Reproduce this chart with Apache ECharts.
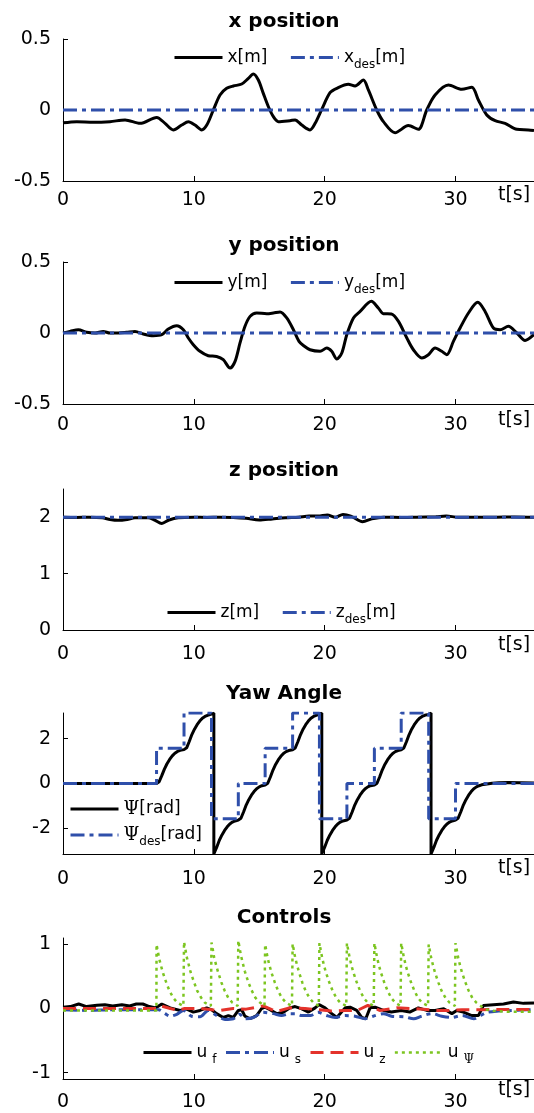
<!DOCTYPE html>
<html><head><meta charset="utf-8">
<script src="https://cdn.jsdelivr.net/npm/echarts@6/dist/echarts.min.js"></script>
<style>html,body{margin:0;padding:0;background:#fff}#c{width:534px;height:1113px}</style>
</head><body><div id="c"></div>
<script>
// ---------------- data (t [s], value) ----------------
const xTickValues = [0, 10, 20, 30];
const panelTitles = ['x position', 'y position', 'z position', 'Yaw Angle', 'Controls'];

const xPos = [[0,-0.09],[1.05,-0.082],[2.32,-0.087],[3.59,-0.082],[4.74,-0.07],[5.89,-0.094],[7.16,-0.052],[7.8,-0.094],[8.43,-0.14],[9.07,-0.106],[9.58,-0.082],[10.09,-0.106],[10.6,-0.14],[10.99,-0.106],[11.49,0],[12.0,0.106],[12.51,0.153],[13.02,0.169],[13.66,0.183],[14.17,0.223],[14.55,0.253],[14.93,0.211],[15.31,0.117],[15.7,0.023],[16.08,-0.047],[16.46,-0.082],[17.35,-0.075],[17.74,-0.07],[18.25,-0.106],[18.88,-0.14],[19.27,-0.094],[19.78,0.005],[20.41,0.122],[20.93,0.153],[21.81,0.181],[22.32,0.169],[22.96,0.211],[23.34,0.141],[23.98,0],[24.49,-0.082],[25.38,-0.16],[26.4,-0.11],[27.16,-0.136],[27.8,0],[28.44,0.106],[29.46,0.176],[30.48,0.146],[31.25,0.16],[31.75,0.07],[32.39,-0.035],[33.03,-0.075],[33.79,-0.094],[34.69,-0.136],[35.57,-0.14],[36,-0.145]];
const xDes = [[0,0],[36,0]];

const yPos = [[0,0],[0.54,0.011],[1.17,0.023],[1.81,0.005],[2.45,0],[3.08,0.011],[3.59,0],[4.23,0],[4.87,0.005],[5.5,0.011],[6.14,-0.007],[6.9,-0.019],[7.55,-0.012],[8.05,0.028],[8.69,0.051],[9.2,0.023],[9.58,-0.035],[9.96,-0.082],[10.47,-0.129],[11.1,-0.16],[11.74,-0.165],[12.25,-0.188],[12.77,-0.247],[13.15,-0.2],[13.53,-0.07],[13.91,0.047],[14.3,0.117],[14.8,0.141],[15.57,0.136],[16.08,0.141],[16.59,0.148],[17.1,0.106],[17.61,0.023],[18.04,-0.059],[18.4,-0.09],[18.88,-0.118],[19.65,-0.129],[20.16,-0.106],[20.54,-0.129],[20.93,-0.183],[21.31,-0.141],[21.69,-0.012],[22.2,0.106],[22.71,0.152],[23.57,0.223],[24.1,0.176],[24.49,0.136],[25.1,0.134],[25.64,0.082],[26.28,-0.035],[26.78,-0.118],[27.42,-0.176],[27.93,-0.153],[28.44,-0.106],[28.95,-0.129],[29.33,-0.153],[29.84,-0.059],[30.35,0.035],[30.99,0.141],[31.7,0.216],[32.26,0.152],[32.9,0.035],[33.41,0.023],[34.04,0.047],[34.69,0],[35.32,-0.052],[36,-0.01]];
const yDes = [[0,0],[36,0]];

const zPos = [[0,2.0],[1,1.995],[2,2.0],[3,1.99],[3.6,1.96],[4.2,1.945],[4.9,1.96],[5.5,1.99],[6.5,1.99],[7.0,1.95],[7.55,1.89],[8.1,1.95],[8.8,1.99],[10,2.0],[11,1.995],[12,2.0],[13,1.995],[14,1.98],[15.0,1.95],[16,1.97],[17,1.99],[18,2.0],[18.8,2.02],[19.5,2.02],[20.2,2.04],[20.8,2.0],[21.4,2.05],[22.0,2.02],[22.9,1.92],[23.6,1.97],[24.5,2.0],[26,1.995],[27,2.0],[28.5,2.01],[29.3,2.02],[30.2,2.0],[31.5,2.0],[33,2.0],[34.5,2.005],[36,2.0]];
const zDes = [[0,2],[36,2]];

const psiPos = [[0,0],[2,0],[4,0],[6,0],[7.15,0],[7.35,0.08],[7.55,0.35],[7.75,0.64],[7.95,0.88],[8.15,1.07],[8.35,1.23],[8.55,1.35],[8.75,1.43],[8.95,1.48],[9.25,1.51],
[9.45,1.59],[9.65,1.87],[9.85,2.18],[10.05,2.42],[10.25,2.62],[10.45,2.78],[10.65,2.91],[10.85,2.99],[11.05,3.04],[11.35,3.09],[11.53,3.1416],[11.53,-3.1416],[11.55,-3.12],[11.75,-2.84],[11.95,-2.53],[12.15,-2.29],[12.35,-2.09],[12.55,-1.93],[12.75,-1.8],[12.95,-1.72],[13.15,-1.67],[13.4,-1.63],
[13.6,-1.55],[13.8,-1.27],[14.0,-0.96],[14.2,-0.72],[14.4,-0.52],[14.6,-0.36],[14.8,-0.23],[15.0,-0.15],[15.2,-0.1],[15.45,-0.07],
[15.65,0.01],[15.85,0.29],[16.05,0.6],[16.25,0.85],[16.45,1.05],[16.65,1.21],[16.85,1.34],[17.05,1.42],[17.25,1.47],[17.55,1.5],
[17.75,1.58],[17.95,1.86],[18.15,2.17],[18.35,2.42],[18.55,2.62],[18.75,2.78],[18.95,2.91],[19.15,2.99],[19.35,3.04],[19.6,3.08],[19.78,3.1416],[19.78,-3.1416],[19.8,-3.12],[20.0,-2.84],[20.2,-2.53],[20.4,-2.29],[20.6,-2.09],[20.8,-1.93],[21.0,-1.8],[21.2,-1.72],[21.4,-1.67],[21.7,-1.63],
[21.9,-1.55],[22.1,-1.27],[22.3,-0.96],[22.5,-0.72],[22.7,-0.52],[22.9,-0.36],[23.1,-0.23],[23.3,-0.15],[23.5,-0.1],[23.8,-0.07],
[24.0,0.01],[24.2,0.29],[24.4,0.6],[24.6,0.85],[24.8,1.05],[25.0,1.21],[25.2,1.34],[25.4,1.42],[25.6,1.47],[25.85,1.5],
[26.05,1.58],[26.25,1.86],[26.45,2.17],[26.65,2.42],[26.85,2.62],[27.05,2.78],[27.25,2.91],[27.45,2.99],[27.65,3.04],[27.95,3.08],[28.13,3.1416],[28.13,-3.1416],[28.15,-3.12],[28.35,-2.84],[28.55,-2.53],[28.75,-2.29],[28.95,-2.09],[29.15,-1.93],[29.35,-1.8],[29.55,-1.72],[29.75,-1.67],[30.0,-1.63],
[30.2,-1.55],[30.4,-1.27],[30.6,-0.96],[30.8,-0.72],[31.0,-0.52],[31.2,-0.36],[31.4,-0.23],[31.6,-0.15],[31.8,-0.1],[32.0,-0.06],[32.4,-0.02],[32.8,0.01],[33.3,0.03],[34,0.04],[35,0.03],[36,0.02]];
// desired yaw: value held from each time until the next one
const psiDes = [[0,0],[7.15,1.5708],[9.25,3.1416],[11.35,-1.5708],[13.4,0],[15.45,1.5708],[17.55,3.1416],[19.6,-1.5708],[21.7,0],[23.8,1.5708],[25.85,3.1416],[27.95,-1.5708],[30.0,0],[36,0]];

const uF = [[0,0.02],[0.55,0.03],[1.2,0.07],[1.8,0.03],[2.6,0.05],[3.2,0.06],[3.8,0.04],[4.5,0.06],[5.1,0.04],[5.6,0.07],[6.1,0.07],[6.6,0.03],[7.1,0.01],[7.55,0.07],[8.19,0.01],[8.95,-0.03],[9.45,-0.01],[9.96,-0.056],[10.47,-0.03],[10.98,0.01],[11.36,-0.02],[11.74,-0.08],[12.25,-0.14],[12.64,-0.11],[13.02,-0.14],[13.4,-0.03],[13.66,-0.02],[13.9,-0.12],[14.3,-0.16],[14.8,-0.11],[15.18,0.0],[15.44,0.02],[15.82,-0.02],[16.33,-0.08],[16.84,-0.06],[17.35,0.01],[17.74,0.03],[18.25,-0.005],[18.76,-0.056],[19.27,0.01],[19.57,0.06],[20.03,0.01],[20.54,-0.08],[20.93,-0.14],[21.56,0.01],[21.94,0.02],[22.45,-0.03],[22.83,-0.14],[23.14,-0.16],[23.47,0.01],[23.85,0.02],[24.5,-0.03],[25.1,-0.056],[25.86,-0.03],[26.5,-0.056],[27.16,0.01],[27.8,-0.03],[28.44,-0.03],[29.1,-0.005],[29.72,-0.08],[30.1,-0.03],[30.6,-0.056],[31.25,-0.11],[31.75,-0.11],[32.13,0.046],[32.9,0.06],[33.67,0.07],[34.43,0.1],[35.2,0.08],[36,0.087]];
const uS = [[0,-0.02],[2,-0.03],[3.8,-0.02],[5.9,-0.02],[7.3,-0.02],[7.8,-0.08],[8.2,-0.12],[8.7,-0.09],[9.2,-0.03],[9.83,-0.12],[10.47,-0.13],[11.1,-0.03],[11.74,-0.11],[12.38,-0.17],[13.02,-0.16],[13.5,-0.09],[13.9,-0.16],[14.55,-0.14],[15.3,-0.06],[16.08,-0.08],[16.7,-0.11],[17.35,-0.08],[17.74,-0.08],[18.25,-0.11],[18.9,-0.11],[19.5,-0.06],[20.16,-0.11],[20.8,-0.14],[21.56,-0.11],[22.32,-0.12],[23.1,-0.16],[23.7,-0.12],[24.5,-0.08],[25.1,-0.12],[26.1,-0.13],[26.8,-0.16],[27.4,-0.12],[28.2,-0.08],[28.95,-0.12],[29.7,-0.14],[30.5,-0.11],[31.4,-0.16],[31.9,-0.11],[32.4,-0.06],[33.3,-0.04],[34.4,-0.03],[35.4,-0.02],[36,-0.02]];
const uZ = [[0,0],[7.2,0.0],[7.5,0.04],[8.2,0.0],[8.8,-0.03],[9.3,0.0],[10.5,0.0],[11.4,-0.02],[12.0,-0.03],[13.0,0.0],[14.0,-0.01],[15.3,0.04],[16.3,-0.05],[17.3,0.01],[18.5,0.0],[19.6,-0.02],[20.5,-0.04],[21.5,-0.03],[22.5,-0.03],[23.3,0.05],[24.2,-0.03],[25.5,0.01],[26.5,0.0],[27.5,-0.01],[28.5,-0.03],[29.5,-0.03],[30.5,-0.02],[32,-0.02],[33,-0.015],[36,-0.015]];
const uPsi = [[0,-0.03],[3,-0.03],[6,-0.03],[7.14,-0.03],
[7.15,1.0],[7.25,0.89],[7.35,0.78],[7.5,0.66],[7.65,0.55],[7.9,0.4],[8.15,0.27],[8.45,0.16],[8.75,0.09],[9.2,0.04],
[9.25,1.04],[9.35,0.93],[9.45,0.81],[9.6,0.69],[9.75,0.57],[10.0,0.42],[10.25,0.28],[10.55,0.17],[10.85,0.09],[11.3,0.04],
[11.35,1.03],[11.45,0.92],[11.55,0.8],[11.7,0.68],[11.85,0.57],[12.1,0.41],[12.35,0.28],[12.65,0.16],[12.95,0.09],[13.35,0.04],
[13.4,1.06],[13.5,0.94],[13.6,0.83],[13.75,0.7],[13.9,0.58],[14.15,0.42],[14.4,0.29],[14.7,0.17],[15.0,0.1],[15.4,0.04],
[15.45,1.0],[15.55,0.89],[15.65,0.78],[15.8,0.66],[15.95,0.55],[16.2,0.4],[16.45,0.27],[16.75,0.16],[17.05,0.09],[17.5,0.04],
[17.55,1.01],[17.65,0.9],[17.75,0.79],[17.9,0.67],[18.05,0.56],[18.3,0.4],[18.55,0.27],[18.85,0.16],[19.15,0.09],[19.55,0.04],
[19.6,1.02],[19.7,0.91],[19.8,0.8],[19.95,0.67],[20.1,0.56],[20.35,0.41],[20.6,0.28],[20.9,0.16],[21.2,0.09],[21.65,0.04],
[21.7,1.02],[21.8,0.91],[21.9,0.8],[22.05,0.67],[22.2,0.56],[22.45,0.41],[22.7,0.28],[23.0,0.16],[23.3,0.09],[23.75,0.04],
[23.8,1.02],[23.9,0.91],[24.0,0.8],[24.15,0.67],[24.3,0.56],[24.55,0.41],[24.8,0.28],[25.1,0.16],[25.4,0.09],[25.8,0.04],
[25.85,1.02],[25.95,0.91],[26.05,0.8],[26.2,0.67],[26.35,0.56],[26.6,0.41],[26.85,0.28],[27.15,0.16],[27.45,0.09],[27.9,0.04],
[27.95,1.0],[28.05,0.89],[28.15,0.78],[28.3,0.66],[28.45,0.55],[28.7,0.4],[28.95,0.27],[29.25,0.16],[29.55,0.09],[29.95,0.04],
[30.0,1.02],[30.1,0.91],[30.2,0.8],[30.35,0.67],[30.5,0.56],[30.75,0.41],[31.0,0.28],[31.3,0.16],[31.6,0.09],[32.0,0.03],[32.4,-0.02],[33,-0.04],[34,-0.05],[35,-0.05],[36,-0.05]];

// ---------------- layout / style ----------------
const FONT = "'DejaVu Sans', sans-serif";
const SERIF = "'DejaVu Serif', serif";
const BLACK = '#000000', BLUE = '#2F4FAA', RED = '#E4322B', GREEN = '#7CC520';
const DASHDOT = [14, 5, 4, 5];
const gridTops = [39, 262, 489, 713, 938];
const gridHeights = [142, 142, 141, 141, 141];
const yRanges = [[-0.5, 0.5], [-0.5, 0.5], [0, 2.5], [-Math.PI, Math.PI], [-1.1, 1.1]];
const yTickValues = [[-0.5, 0, 0.5], [-0.5, 0, 0.5], [0, 1, 2], [-2, 0, 2], [-1, 0, 1]];
const xLabelMargins = [10, 12, 15, 16, 14];
const tNamePads = [5, 7, 6, 5, 2];
const titleTops = [12, 236, 461, 684, 908];

const legendText = {
  'x[m]': '{n|x[m]}', 'x_des[m]': '{n|x}{s|des}{n|[m]}',
  'y[m]': '{n|y[m]}', 'y_des[m]': '{n|y}{s|des}{n|[m]}',
  'z[m]': '{n|z[m]}', 'z_des[m]': '{n|z}{s|des}{n|[m]}',
  'Ψ[rad]': '{g|Ψ}{n|[rad]}', 'Ψ_des[rad]': '{g|Ψ}{s|des}{n|[rad]}',
  'u_f': '{n|u}{su|f}', 'u_s': '{n|u}{su|s}', 'u_z': '{n|u}{su|z}', 'u_Ψ': '{n|u}{sg|Ψ}'
};
const rich = {
  n: {fontSize: 17, fontFamily: FONT, color: '#000', lineHeight: 26},
  g: {fontSize: 18, fontFamily: SERIF, color: '#000', lineHeight: 26},
  s: {fontSize: 12, fontFamily: FONT, color: '#000', lineHeight: 14, verticalAlign: 'bottom'},
  su: {fontSize: 12, fontFamily: FONT, color: '#000', lineHeight: 14, verticalAlign: 'bottom', padding: [0, 0, 0, 5]},
  sg: {fontSize: 12, fontFamily: SERIF, color: '#000', lineHeight: 14, verticalAlign: 'bottom', padding: [0, 0, 0, 5]}
};

function legendCfg(names, left, top, extra) {
  return Object.assign({
    data: names, left: left, top: top, padding: 0, itemWidth: 48, itemHeight: 14, itemGap: 22,
    selectedMode: false, formatter: n => legendText[n],
    itemStyle: {opacity: 0, borderWidth: 0},
    lineStyle: {width: 'inherit'},
    textStyle: {color: '#000', fontFamily: FONT, fontSize: 17, rich: rich}
  }, extra || {});
}
function ser(name, idx, data, color, width, type, extra) {
  return Object.assign({
    name: name, type: 'line', xAxisIndex: idx, yAxisIndex: idx, data: data,
    symbol: 'none', showSymbol: false, clip: true,
    lineStyle: {color: color, width: width, type: type}, itemStyle: {color: color}
  }, extra || {});
}

const grids = [], xAxes = [], yAxes = [], graphics = [];
for (let i = 0; i < 5; i++) {
  grids.push({left: 63, width: 471, top: gridTops[i], height: gridHeights[i], outerBoundsMode: 'none', containLabel: false});
  xAxes.push({
    type: 'value', gridIndex: i, min: 0, max: 36,
    axisLine: {show: true, onZero: false, lineStyle: {color: '#000', width: 1}},
    axisTick: {show: true, inside: true, length: 5, customValues: xTickValues, lineStyle: {color: '#000'}},
    axisLabel: {customValues: xTickValues, margin: xLabelMargins[i], color: '#000', fontSize: 19, fontFamily: FONT},
    splitLine: {show: false},
    name: 't[s]', nameLocation: 'end', nameGap: -36,
    nameTextStyle: {align: 'left', verticalAlign: 'top', padding: [tNamePads[i], 0, 0, 0], fontSize: 19, fontFamily: FONT, color: '#000'}
  });
  yAxes.push({
    type: 'value', gridIndex: i, min: yRanges[i][0], max: yRanges[i][1],
    axisLine: {show: true, onZero: false, lineStyle: {color: '#000', width: 1}},
    axisTick: {show: true, inside: true, length: 5, customValues: yTickValues[i], lineStyle: {color: '#000'}},
    axisLabel: {customValues: yTickValues[i], margin: 12, color: '#000', fontSize: 19, fontFamily: FONT},
    splitLine: {show: false}
  });
  graphics.push({
    type: 'text', x: 284, y: titleTops[i], z: 100,
    style: {text: panelTitles[i], align: 'center', verticalAlign: 'top', fill: '#000',
            font: 'bold 20px ' + FONT}
  });
}

const option = {
  animation: false,
  backgroundColor: '#fff',
  grid: grids, xAxis: xAxes, yAxis: yAxes, graphic: graphics,
  legend: [
    legendCfg(['x[m]', 'x_des[m]'], 173, 49),
    legendCfg(['y[m]', 'y_des[m]'], 173, 274),
    legendCfg(['z[m]', 'z_des[m]'], 166, 604),
    legendCfg(['Ψ[rad]', 'Ψ_des[rad]'], 69, 800, {orient: 'vertical', itemGap: 8}),
    legendCfg(['u_f', 'u_s', 'u_z', 'u_Ψ'], 142, 1044, {itemGap: 8})
  ],
  series: [
    ser('x[m]', 0, xPos, BLACK, 3, 'solid', {smooth: 0.3}),
    ser('x_des[m]', 0, xDes, BLUE, 3, DASHDOT),
    ser('y[m]', 1, yPos, BLACK, 3, 'solid', {smooth: 0.3}),
    ser('y_des[m]', 1, yDes, BLUE, 3, DASHDOT),
    ser('z[m]', 2, zPos, BLACK, 3, 'solid', {smooth: 0.3}),
    ser('z_des[m]', 2, zDes, BLUE, 3, DASHDOT),
    ser('Ψ[rad]', 3, psiPos, BLACK, 3, 'solid'),
    ser('Ψ_des[rad]', 3, psiDes, BLUE, 3, DASHDOT, {step: 'end'}),
    ser('u_f', 4, uF, BLACK, 3, 'solid'),
    ser('u_s', 4, uS, BLUE, 3, DASHDOT, {smooth: 0.3}),
    ser('u_z', 4, uZ, RED, 3, [13, 7]),
    ser('u_Ψ', 4, uPsi, GREEN, 2.5, [3, 4])
  ]
};
const chart = echarts.init(document.getElementById('c'), null, {renderer: 'canvas'});
chart.setOption(option);
</script>
</body></html>
